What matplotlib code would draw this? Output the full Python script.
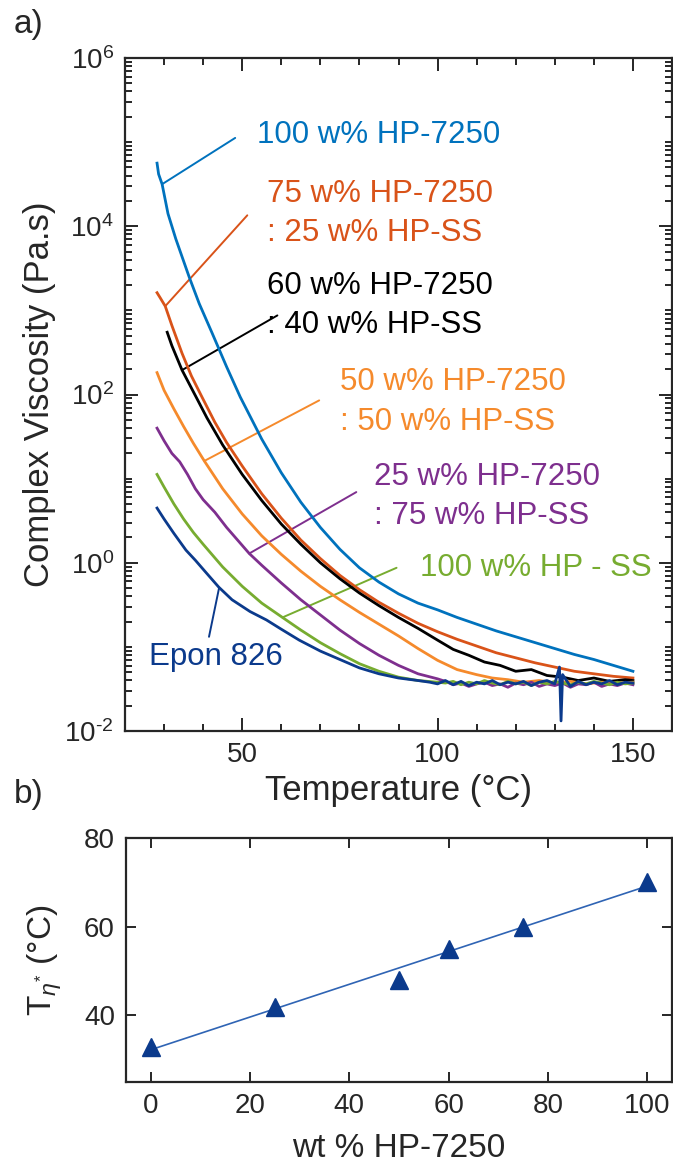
import numpy as np
import matplotlib
matplotlib.use("Agg")
import matplotlib.pyplot as plt
from matplotlib.ticker import FixedLocator, LogLocator, FuncFormatter, MultipleLocator, NullFormatter

plt.rcParams["font.family"] = ["Liberation Sans", "DejaVu Sans"]
plt.rcParams["mathtext.fontset"] = "custom"
plt.rcParams["mathtext.rm"] = "Liberation Sans"
plt.rcParams["mathtext.it"] = "Liberation Sans:italic"
plt.rcParams["mathtext.bf"] = "Liberation Sans:bold"

# ---- (a) complex viscosity vs temperature, log10(eta* / Pa.s) ----
T_7250 = [28.2, 28.6, 29.5, 31, 33, 36.4, 39, 42.3, 46, 49.5, 55, 60, 65, 70, 75, 80,
          85, 90, 95, 100, 105, 110, 115, 120, 125, 130, 135, 140, 145, 150]
eta_7250 = [4.75, 4.62, 4.50, 4.15, 3.85, 3.40, 3.08, 2.73, 2.33, 1.97, 1.47, 1.07, 0.72,
            0.42, 0.16, -0.06, -0.23, -0.37, -0.48, -0.56, -0.65, -0.73, -0.81, -0.88,
            -0.95, -1.02, -1.09, -1.15, -1.22, -1.29]

T_75 = [28.2, 29, 30.3, 32, 34.6, 37, 39.7, 43, 46, 50, 55, 60, 65, 70, 75, 80, 85, 90,
        95, 100, 105, 110, 115, 120, 125, 130, 135, 140, 145, 150]
eta_75 = [3.21, 3.15, 3.05, 2.82, 2.49, 2.22, 1.97, 1.67, 1.43, 1.15, 0.82, 0.53, 0.27,
          0.05, -0.15, -0.32, -0.47, -0.60, -0.72, -0.82, -0.91, -0.99, -1.07, -1.13,
          -1.19, -1.24, -1.29, -1.32, -1.35, -1.37]

T_60 = [30.8, 32, 34.6, 38.2, 41, 45, 50, 55, 60, 65, 70, 75, 80, 85, 90, 95, 100, 104,
        108, 112, 116, 120, 124, 128, 132, 136, 140, 144, 148, 150]
eta_60 = [2.74, 2.58, 2.29, 1.97, 1.72, 1.40, 1.05, 0.74, 0.46, 0.22, 0.0, -0.19, -0.36,
          -0.51, -0.65, -0.78, -0.92, -1.03, -1.10, -1.18, -1.22, -1.29, -1.27, -1.34,
          -1.36, -1.40, -1.37, -1.41, -1.39, -1.40]

T_50 = [28.2, 30, 32.5, 35, 37.5, 40.3, 45, 50, 55, 60, 65, 70, 75, 80, 85, 90, 95, 100,
        105, 110, 114, 118, 122, 126, 130, 134, 138, 142, 146, 150]
eta_50 = [2.26, 2.05, 1.83, 1.62, 1.42, 1.21, 0.88, 0.58, 0.32, 0.10, -0.10, -0.28,
          -0.44, -0.59, -0.73, -0.87, -1.02, -1.16, -1.27, -1.33, -1.37, -1.39, -1.42,
          -1.40, -1.43, -1.41, -1.44, -1.42, -1.43, -1.42]

T_25 = [28.2, 30, 32, 34, 36, 38, 40, 43, 46, 51.8, 55, 60, 65, 70, 75, 80, 85, 90, 95,
        100, 102, 104, 106, 108, 110, 112, 114, 116, 118, 120, 122, 124, 126, 128, 130,
        132, 134, 136, 138, 140, 142, 144, 146, 148, 150]
eta_25 = [1.60, 1.45, 1.30, 1.20, 1.05, 0.88, 0.75, 0.60, 0.42, 0.11, -0.03, -0.24,
          -0.44, -0.62, -0.80, -0.96, -1.10, -1.22, -1.32, -1.38, -1.41, -1.45, -1.43,
          -1.47, -1.44, -1.42, -1.46, -1.44, -1.48, -1.43, -1.45, -1.42, -1.47, -1.44,
          -1.46, -1.43, -1.48, -1.44, -1.45, -1.42, -1.47, -1.44, -1.46, -1.43, -1.45]

T_SS = [28.2, 30, 32.5, 35, 37.5, 40, 45, 50, 55, 60.3, 65, 70, 75, 80, 85, 90, 95, 100,
        102, 104, 106, 108, 110, 112, 114, 116, 118, 120, 122, 124, 126, 128, 130, 132,
        134, 136, 138, 140, 142, 144, 146, 148, 150]
eta_SS = [1.05, 0.90, 0.70, 0.52, 0.36, 0.22, -0.05, -0.28, -0.48, -0.65, -0.80, -0.95,
          -1.08, -1.20, -1.29, -1.36, -1.40, -1.42, -1.43, -1.41, -1.45, -1.42, -1.44,
          -1.40, -1.43, -1.45, -1.41, -1.44, -1.42, -1.46, -1.42, -1.44, -1.41, -1.43,
          -1.45, -1.42, -1.44, -1.41, -1.43, -1.45, -1.42, -1.44, -1.43]

T_epon = [28.2, 30, 32.5, 35.6, 38, 40.8, 44, 47.4, 52, 56.2, 60, 64.6, 70, 75, 80, 85,
          90, 95, 98, 100, 102, 104, 106, 108, 110, 112, 114, 116, 118, 120, 122, 124,
          126, 128, 130, 131.2, 131.6, 132.0, 134, 136, 138, 140, 142, 144, 146, 148, 150]
eta_epon = [0.65, 0.52, 0.35, 0.15, 0.03, -0.12, -0.29, -0.44, -0.58, -0.68, -0.79,
            -0.92, -1.05, -1.15, -1.25, -1.32, -1.37, -1.40, -1.42, -1.44, -1.40, -1.45,
            -1.41, -1.46, -1.42, -1.44, -1.40, -1.45, -1.42, -1.44, -1.41, -1.46, -1.42,
            -1.40, -1.44, -1.24, -1.88, -1.33, -1.47, -1.41, -1.45, -1.42, -1.44, -1.40,
            -1.45, -1.42, -1.43]

# ---- (b) characteristic temperature vs HP-7250 content ----
wt_7250 = [0, 25, 50, 60, 75, 100]
T_eta = [33, 42, 48, 55, 60, 70]

C_BLUE = "#0072BD"
C_RED = "#D95319"
C_BLACK = "#000000"
C_ORANGE = "#F58A2C"
C_PURPLE = "#7E2F8E"
C_GREEN = "#77AC30"
C_EPON = "#0B3A8C"
AX_COLOR = "#262626"

# label text, colour, anchor temperature on curve, leader end (T, log eta), text pos (T, log eta)
curves = [
    (T_7250, eta_7250, "100 w% HP-7250", C_BLUE, 29.5, (48.2, 5.05), (53.8, 5.08)),
    (T_75, eta_75, "75 w% HP-7250\n: 25 w% HP-SS", C_RED, 30.3, (51.3, 4.13), (56.4, 4.15)),
    (T_60, eta_60, "60 w% HP-7250\n: 40 w% HP-SS", C_BLACK, 34.6, (59.0, 2.94), (56.4, 3.06)),
    (T_50, eta_50, "50 w% HP-7250\n: 50 w% HP-SS", C_ORANGE, 40.3, (69.7, 1.93), (74.9, 1.91)),
    (T_25, eta_25, "25 w% HP-7250\n: 75 w% HP-SS", C_PURPLE, 51.8, (79.2, 0.84), (83.8, 0.79)),
    (T_SS, eta_SS, "100 w% HP - SS", C_GREEN, 60.3, (89.5, -0.06), (95.4, -0.06)),
    (T_epon, eta_epon, "Epon 826", C_EPON, 44.1, (41.5, -0.88), (26.2, -1.12)),
]

fig = plt.figure(figsize=(6.73, 11.71), dpi=100)
W, H = 673.0, 1171.0
ax1 = fig.add_axes([125 / W, 1 - 731 / H, 547 / W, 673 / H])
ax2 = fig.add_axes([126 / W, 1 - 1082 / H, 546 / W, 244 / H])

TICK_FS = 20
LABEL_FS = 25
NOTE_FS = 22.5

for T, le, label, col, t_anchor, lead_end, txt_pos in curves:
    ax1.plot(T, 10 ** np.asarray(le), color=col, lw=2.0, zorder=3)
    y_anchor = 10 ** np.interp(t_anchor, T, le)
    ax1.annotate("", xy=(t_anchor, y_anchor), xytext=(lead_end[0], 10 ** lead_end[1]),
                 arrowprops=dict(arrowstyle="-", color=col, lw=1.4,
                                 shrinkA=0, shrinkB=0), zorder=2)
    ax1.text(txt_pos[0], 10 ** txt_pos[1], label, color=col, fontsize=NOTE_FS,
             ha="left", va="center", linespacing=1.4)


def decade_label(v, pos):
    e = int(round(np.log10(v)))
    sign = r"\text{-}" if e < 0 else ""
    return r"$10^{%s%d}$" % (sign, abs(e))


ax1.set_yscale("log")
ax1.set_xlim(20, 160)
ax1.set_ylim(1e-2, 1e6)
ax1.xaxis.set_major_locator(FixedLocator([50, 100, 150]))
ax1.xaxis.set_minor_locator(MultipleLocator(10))
ax1.yaxis.set_major_locator(FixedLocator([1e-2, 1e0, 1e2, 1e4, 1e6]))
ax1.yaxis.set_minor_locator(LogLocator(base=10, subs=np.arange(1, 10), numticks=20))
ax1.yaxis.set_minor_formatter(NullFormatter())
ax1.yaxis.set_major_formatter(FuncFormatter(decade_label))
ax1.set_xlabel("Temperature (°C)", fontsize=LABEL_FS, color=AX_COLOR, labelpad=4)
ax1.set_ylabel("Complex Viscosity (Pa.s)", fontsize=LABEL_FS, color=AX_COLOR, labelpad=6)

# ---- panel (b) ----
ax2.plot(wt_7250, T_eta, linestyle="none", marker="^", markersize=13,
         color=C_EPON, zorder=3)
fit = np.polyfit(wt_7250, T_eta, 1)
xf = np.array([min(wt_7250), max(wt_7250)])
ax2.plot(xf, np.polyval(fit, xf), color="#2F64B4", lw=1.2, zorder=2)
ax2.set_xlim(-5, 105)
ax2.set_ylim(25, 80)
ax2.xaxis.set_major_locator(MultipleLocator(20))
ax2.yaxis.set_major_locator(FixedLocator([40, 60, 80]))
ax2.set_xlabel("wt % HP-7250", fontsize=24, color=AX_COLOR, labelpad=10)
ax2.set_ylabel(r"T$_{\eta^{*}}$ (°C)", fontsize=24, color=AX_COLOR, labelpad=14)

for ax in (ax1, ax2):
    for s in ax.spines.values():
        s.set_linewidth(1.6)
        s.set_color(AX_COLOR)
    ax.tick_params(which="both", direction="in", top=True, right=True,
                   colors=AX_COLOR, labelsize=TICK_FS, width=1.4, pad=8)
ax1.tick_params(which="major", length=9.5)
ax1.tick_params(which="minor", length=5)
ax2.tick_params(which="major", length=7.5)

fig.text(14 / W, 1 - 24 / H, "a)", fontsize=24, color=AX_COLOR, ha="left", va="center")
fig.text(14 / W, 1 - 795 / H, "b)", fontsize=24, color=AX_COLOR, ha="left", va="center")

fig.savefig("out.png", dpi=100)
